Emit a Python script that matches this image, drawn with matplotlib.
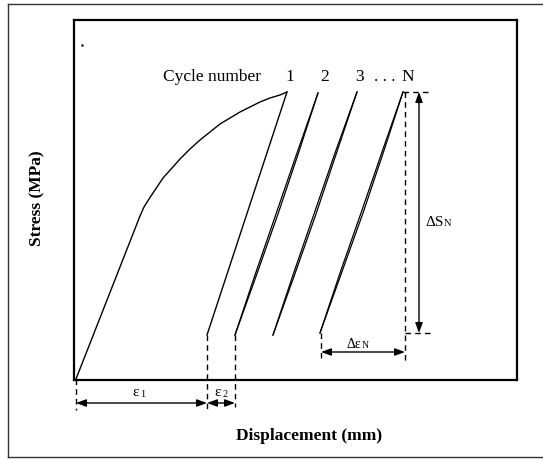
import matplotlib
matplotlib.use("Agg")
import matplotlib.pyplot as plt
from matplotlib.lines import Line2D

plt.rcParams['font.family'] = ['Liberation Serif', 'DejaVu Serif']

# ---- data (schematic units: displacement, stress) ----
load1_x = [0, 64, 68, 73, 79, 87, 96, 104, 114, 124, 134, 144, 154, 164, 174, 184, 194, 204, 211]
load1_y = [0, 163, 172, 180, 189, 201, 211, 220, 230, 239, 247, 255, 261, 267, 272, 277, 281, 284, 287]
unload1_x = [211, 131]
unload1_y = [287, 44]

cyc2_load_x = [159, 179, 200, 221, 242]
cyc2_load_y = [44, 104, 165, 226, 286]
cyc2_unload_x = [242, 222.5, 202, 180.5, 159]
cyc2_unload_y = [286, 226, 165, 104, 44]

cyc3_load_x = [197, 217, 238, 259, 281]
cyc3_load_y = [44, 104, 165, 226, 287]
cyc3_unload_x = [281, 260.5, 240, 218.5, 197]
cyc3_unload_y = [287, 226, 165, 104, 44]

cycN_load_x = [244, 264, 285, 306, 327]
cycN_load_y = [46, 106, 166, 227, 287]
cycN_unload_x = [327, 307.5, 287, 265.5, 244]
cycN_unload_y = [287, 227, 166, 106, 46]

eps1 = (0, 131)
eps2 = (131, 159)
deltaS = (46, 287)
deltaEps = (245, 329)

cycle_labels = ["1", "2", "3", ". . .", "N"]
cycle_label_x = [214, 249, 284, 309, 332]

fig = plt.figure(figsize=(5.43, 4.59), dpi=100)
W, H = 543, 459
ax = fig.add_axes([74 / W, 1 - 380 / H, (517 - 74) / W, (380 - 20) / H])
ax.set_xlim(-2, 441)
ax.set_ylim(-1, 359)
ax.set_xticks([])
ax.set_yticks([])
for s in ax.spines.values():
    s.set_linewidth(1.6)
    s.set_color('black')

lw = 1.0
ax.plot(load1_x, load1_y, color='k', lw=lw, solid_joinstyle='round')
ax.plot(unload1_x, unload1_y, color='k', lw=lw)
for lx, ly, ux, uy in [(cyc2_load_x, cyc2_load_y, cyc2_unload_x, cyc2_unload_y),
                       (cyc3_load_x, cyc3_load_y, cyc3_unload_x, cyc3_unload_y),
                       (cycN_load_x, cycN_load_y, cycN_unload_x, cycN_unload_y)]:
    ax.plot(lx, ly, color='k', lw=0.9)
    ax.plot(ux, uy, color='k', lw=0.9)

dash = (0, (4, 3))
# dashed guides
ax.plot([eps1[0], eps1[0]], [0, -31], color='k', lw=1, ls=dash, clip_on=False)
ax.plot([eps1[1], eps1[1]], [unload1_y[1], -31], color='k', lw=1, ls=dash, clip_on=False)
ax.plot([eps2[1], eps2[1]], [cyc2_load_y[0], -28], color='k', lw=1, ls=dash, clip_on=False)
ax.plot([deltaEps[0], deltaEps[0]], [cycN_load_y[0], 21], color='k', lw=1, ls=dash)
ax.plot([deltaEps[1], deltaEps[1]], [deltaS[1], 17], color='k', lw=1, ls=dash)
ax.plot([cycN_load_x[-1], 356], [deltaS[1], deltaS[1]], color='k', lw=1, ls=dash)
ax.plot([deltaEps[1], 357], [deltaS[0], deltaS[0]], color='k', lw=1, ls=dash)

astyle = '<|-|>,head_length=0.6,head_width=0.22'
def dim(p0, p1):
    ax.annotate('', xy=p1, xytext=p0, annotation_clip=False,
                arrowprops=dict(arrowstyle=astyle, lw=1, color='k',
                                mutation_scale=10, shrinkA=0, shrinkB=0))

dim((eps1[0], -24), (eps1[1], -24))
dim((eps2[0], -24), (eps2[1], -24))
dim((deltaEps[0], 27), (deltaEps[1], 27))
dim((343, deltaS[1]), (343, deltaS[0]))

# labels
ax.text(60, -14, "ε", fontsize=11, ha='center', va='center')
ax.text(64.5, -15.5, "1", fontsize=7.5, ha='left', va='center')
ax.text(142, -14, "ε", fontsize=11, ha='center', va='center')
ax.text(146.5, -15.5, "2", fontsize=7.5, ha='left', va='center')
ax.text(277.5, 35, "Δε", fontsize=10, ha='center', va='center')
ax.text(285.5, 33.5, "N", fontsize=7, ha='left', va='center')
ax.text(349, 157, "ΔS", fontsize=11, ha='left', va='center')
ax.text(367.5, 155.5, "N", fontsize=7.5, ha='left', va='center')

ax.text(87, 302, "Cycle number", fontsize=12.5, ha='left', va='center')
for lab, x in zip(cycle_labels, cycle_label_x):
    ax.text(x, 302, lab, fontsize=12.5, ha='center', va='center')

ax.plot([6], [334], marker='.', ms=1.5, color='k')

fig.text(37 / W, 1 - 198 / H, "Stress (MPa)", rotation=90, fontsize=12.5,
         fontweight='bold', ha='center', va='center')
fig.text(309 / W, 1 - 436 / H, "Displacement (mm)", fontsize=12.5,
         fontweight='bold', ha='center', va='center')

# outer frame
fc = '#333333'
fig.add_artist(Line2D([8 / W, 1], [1 - 4 / H, 1 - 4 / H], color=fc, lw=1, transform=fig.transFigure))
fig.add_artist(Line2D([8 / W, 8 / W], [1 - 4 / H, 1 - 457 / H], color=fc, lw=1, transform=fig.transFigure))
fig.add_artist(Line2D([8 / W, 1], [1 - 457 / H, 1 - 457 / H], color=fc, lw=1, transform=fig.transFigure))

fig.savefig("out.png", dpi=100)
